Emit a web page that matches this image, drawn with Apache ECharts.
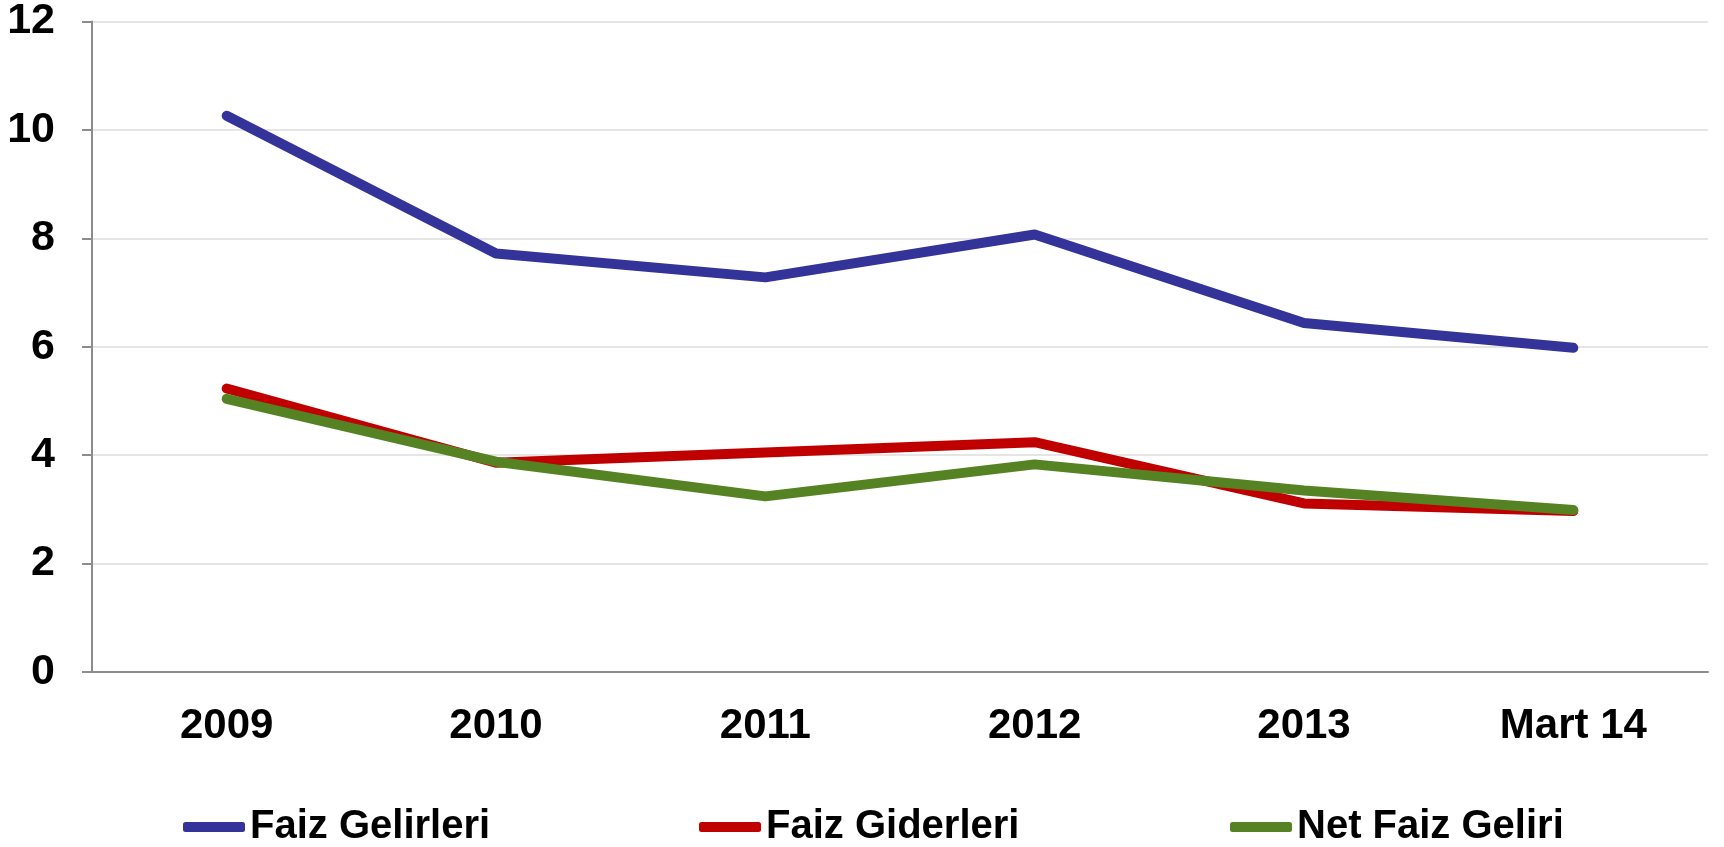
<!DOCTYPE html>
<html lang="en" style="background: #FFFFFF;height: 100%">
<head>
    <meta charset="utf-8" />
    <title>Faiz Gelirleri / Giderleri</title>
    <script type="text/javascript" src="https://cdn.jsdelivr.net/npm/echarts@6/dist/echarts.min.js"></script>
</head>
<body style="margin: 0;height: 100%">
    <div id="chart" style="width:1724px;height:847px"></div>
    <script>
    // kategoriler ve seriler
    let years = ['2009', '2010', '2011', '2012', '2013', 'Mart 14']
    let faizGelirleri = [10.26, 7.72, 7.28, 8.07, 6.44, 5.98]
    let faizGiderleri = [5.23, 3.86, 4.05, 4.24, 3.11, 2.97]
    let netFaizGeliri = [5.04, 3.88, 3.24, 3.83, 3.35, 2.99]
    let yTicks = [0, 2, 4, 6, 8, 10, 12]

    let chart = echarts.init(document.getElementById('chart'))
    let font = 'Liberation Sans, Arial, sans-serif'

    function legendFor(name, left) {
        return {
            data: [name],
            left: left,
            top: 802,
            icon: 'roundRect',
            itemWidth: 62,
            itemHeight: 10,
            textStyle: { fontFamily: font, fontWeight: 'bold', fontSize: 40, color: '#000' }
        }
    }

    function lineSeries(name, data, color) {
        return {
            name: name,
            type: 'line',
            data: data,
            symbol: 'none',
            lineStyle: { width: 10, color: color, cap: 'round', join: 'round' },
            itemStyle: { color: color }
        }
    }

    chart.setOption({
        animation: false,
        grid: { left: 92, right: 16, top: 20, bottom: 175 },
        legend: [
            legendFor('Faiz Gelirleri', 178),
            legendFor('Faiz Giderleri', 694),
            legendFor('Net Faiz Geliri', 1225)
        ],
        xAxis: {
            type: 'category',
            data: years,
            boundaryGap: true,
            axisLine: { lineStyle: { color: '#8c8c8c', width: 2 } },
            axisTick: { length: 12, lineStyle: { color: '#8c8c8c', width: 2 } },
            axisLabel: { fontFamily: font, fontWeight: 'bold', fontSize: 42, color: '#000', margin: 33 }
        },
        yAxis: {
            type: 'value',
            min: yTicks[0],
            max: yTicks[yTicks.length - 1],
            interval: 2,
            axisLine: { show: true, lineStyle: { color: '#8c8c8c', width: 2 } },
            axisTick: { show: true, length: 10, lineStyle: { color: '#8c8c8c', width: 2 } },
            axisLabel: { fontFamily: font, fontWeight: 'bold', fontSize: 43, color: '#000', margin: 37 },
            splitLine: { lineStyle: { color: '#dcdcdc', width: 1.5 } }
        },
        series: [
            lineSeries('Faiz Gelirleri', faizGelirleri, '#333399'),
            lineSeries('Faiz Giderleri', faizGiderleri, '#c00000'),
            lineSeries('Net Faiz Geliri', netFaizGeliri, '#558223')
        ]
    })
    </script>
</body>
</html>
